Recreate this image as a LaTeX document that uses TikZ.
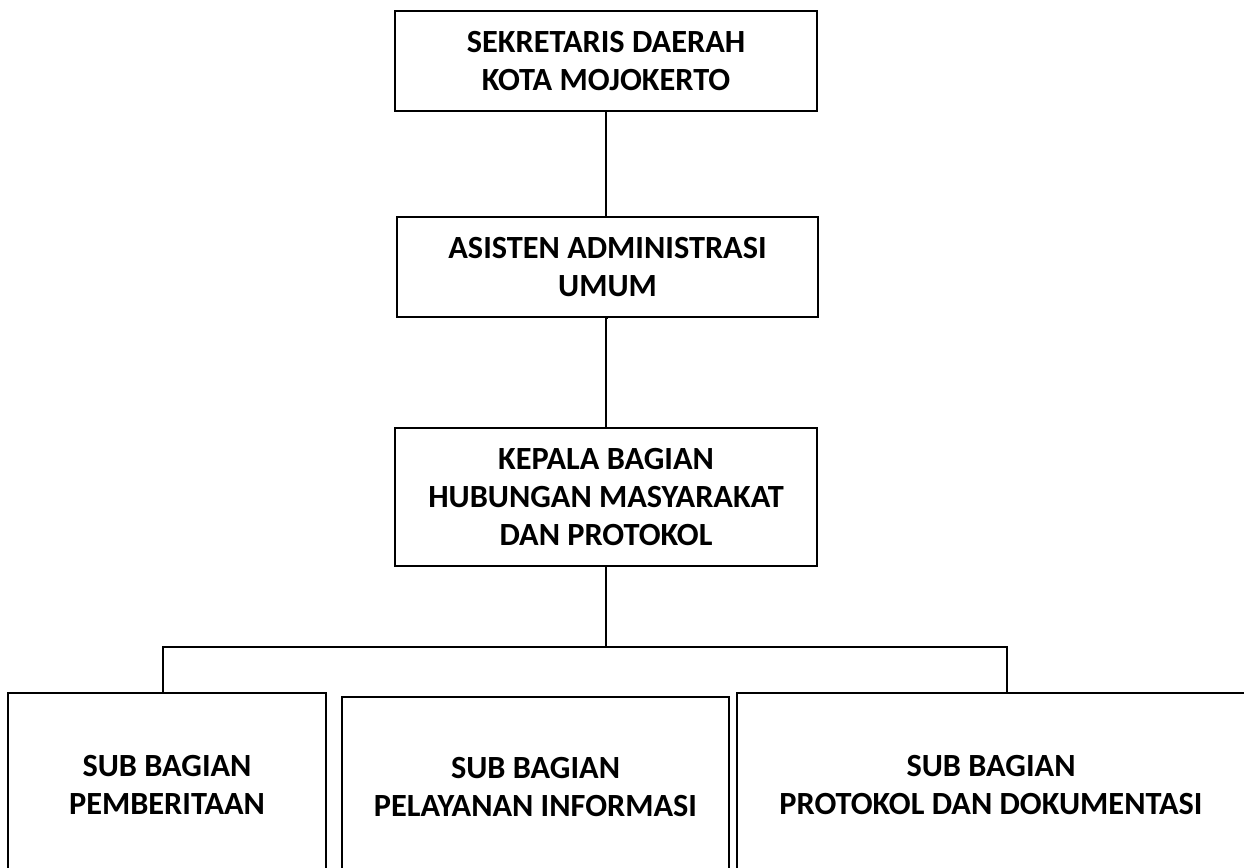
\documentclass[tikz,border=0pt]{standalone}
\usepackage{fontspec}
\setmainfont{Carlito}
\usetikzlibrary{calc}

\tikzset{
  jabatan/.style={draw, line width=1.1pt, align=center, inner sep=0pt,
    font=\bfseries\fontsize{18.4}{21.8}\selectfont},
  garis/.style={line width=1.1pt}
}

\begin{document}
\begin{tikzpicture}[x=0.02cm,y=-0.02cm]

\useasboundingbox (0,0) rectangle (1244,867);
\clip (0,0) rectangle (1244,867);

\node[jabatan, minimum width=8.44cm, minimum height=2cm] (sekda) at (606,61)
  {SEKRETARIS DAERAH\\KOTA MOJOKERTO};
\node[jabatan, minimum width=8.42cm, minimum height=2cm] (asisten) at (607.5,267)
  {ASISTEN ADMINISTRASI\\UMUM};
\node[jabatan, minimum width=8.44cm, minimum height=2.76cm] (kabag) at (606,497)
  {KEPALA BAGIAN\\HUBUNGAN MASYARAKAT\\DAN PROTOKOL};

\begin{scope}
\node[jabatan, minimum width=6.36cm, minimum height=3.68cm] (berita) at (167,785)
  {SUB BAGIAN\\PEMBERITAAN};
\node[jabatan, minimum width=7.74cm, minimum height=3.6cm] (informasi) at (535.5,787)
  {SUB BAGIAN\\PELAYANAN INFORMASI};
\node[jabatan, minimum width=10.16cm, minimum height=3.68cm] (protokol) at (991,785)
  {SUB BAGIAN\\PROTOKOL DAN DOKUMENTASI};
\end{scope}

\coordinate (busL) at (163,647);
\coordinate (busR) at (1007,647);

\draw[garis] (sekda.south) -- (sekda.south |- asisten.north);
\draw[garis] (asisten.south) -- (asisten.south -| kabag.north) -- (kabag.north);
\draw[garis] (kabag.south) -- (kabag.south |- busL);
\draw[garis] (busL |- berita.north) -- (busL) -- (busR) -- (busR |- protokol.north);

\end{tikzpicture}
\end{document}
